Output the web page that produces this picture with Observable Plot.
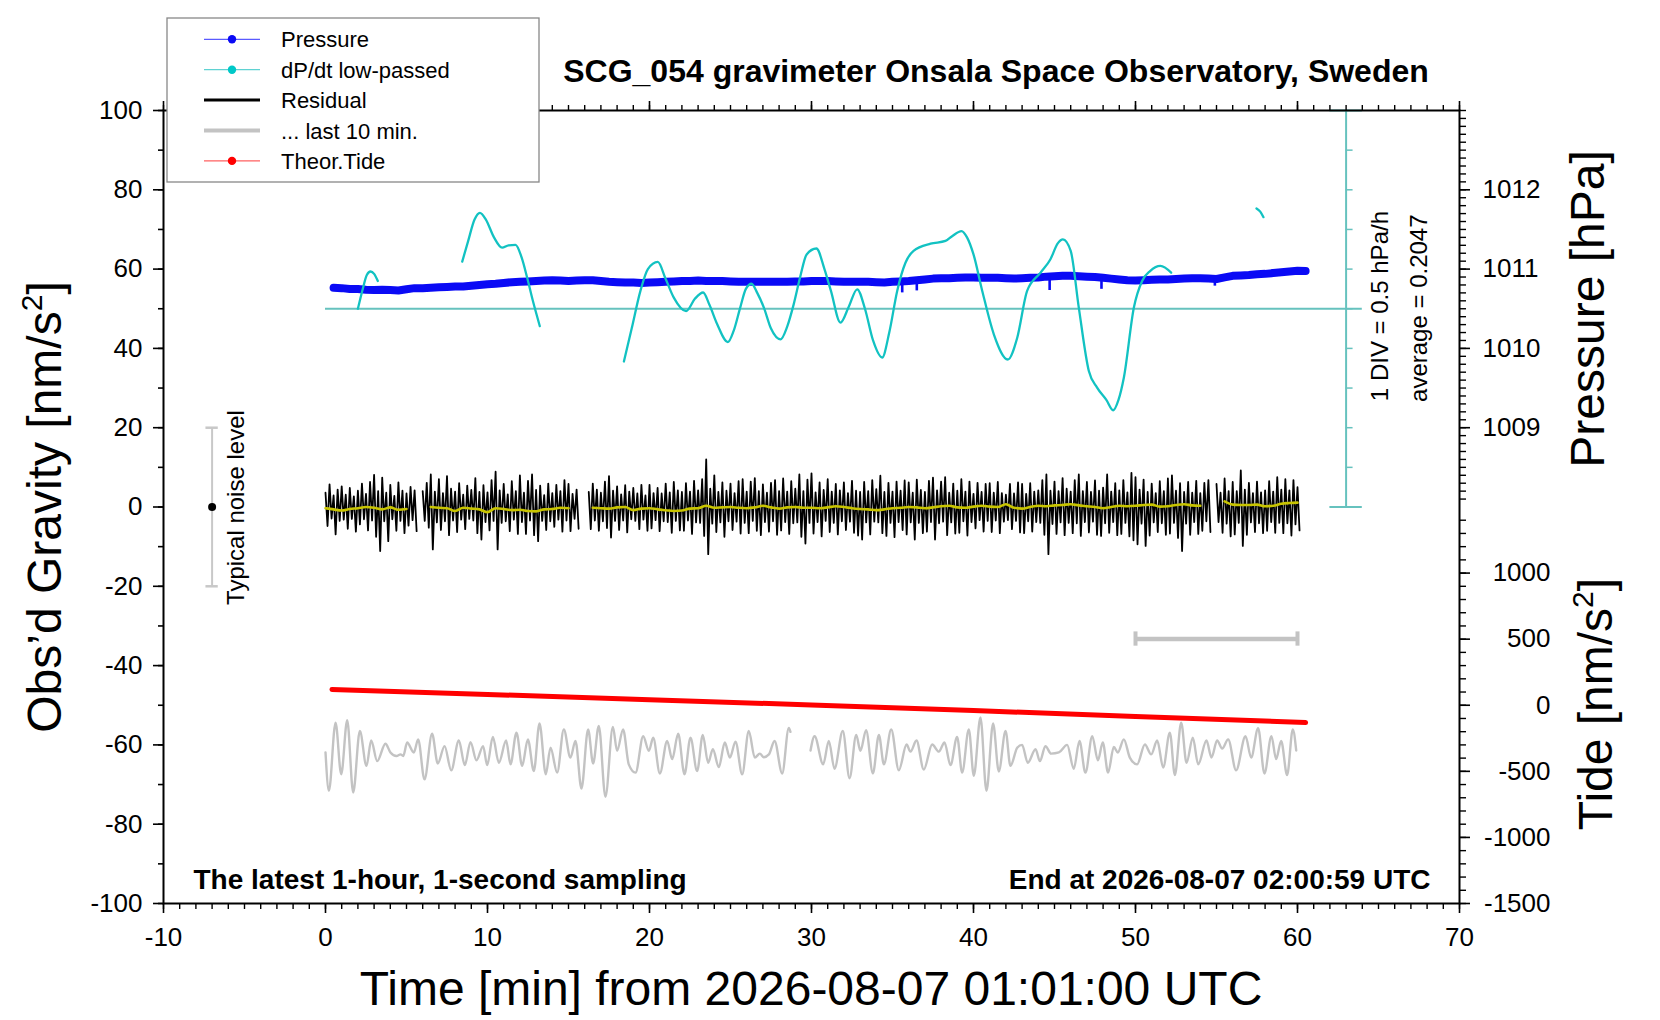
<!DOCTYPE html>
<html>
<head>
<meta charset="utf-8">
<script src="https://cdn.jsdelivr.net/npm/d3@7"></script>
<script src="https://cdn.jsdelivr.net/npm/@observablehq/plot@0.6"></script>
<style>
html,body{margin:0;padding:0;background:#fff;overflow:hidden}
</style>
</head>
<body>
<div id="chart"></div>
<script>
const FONT = "'Liberation Sans', Arial, Helvetica, sans-serif";

// ---------- tick labels ----------
const timeTicks = [-10, 0, 10, 20, 30, 40, 50, 60, 70];
const gravityTicks = [-100, -80, -60, -40, -20, 0, 20, 40, 60, 80, 100];
const pressureTicks = [1009, 1010, 1011, 1012];
const tideTicks = [-1500, -1000, -500, 0, 500, 1000];

// ---------- unit conversions onto the gravity axis ----------
const pToG = p => (p - 1008) * 20;      // 1011 hPa <-> 60 nm/s2, 1 hPa = 20
const tideToG = t => -50 + t / 30;      // 0 nm/s2 <-> -50, 500 = 16.67
const rateToG = r => 50 + 20 * r;       // 0 hPa/h <-> 50, 0.5 hPa/h = 1 DIV = 10

// ---------- Pressure [hPa], every 0.5 min from 0.5 min ----------
const pressureStart = 0.5, pressureStep = 0.5;
const pressure = [
 1010.765,1010.76,1010.75,1010.75,1010.74,1010.735,1010.74,1010.735,1010.73,1010.745,
 1010.76,1010.76,1010.765,1010.77,1010.775,1010.78,1010.78,1010.79,1010.80,1010.81,
 1010.815,1010.825,1010.835,1010.84,1010.845,1010.85,1010.855,1010.86,1010.855,1010.85,
 1010.855,1010.86,1010.86,1010.85,1010.84,1010.835,1010.83,1010.83,1010.825,1010.83,
 1010.835,1010.84,1010.845,1010.85,1010.85,1010.855,1010.85,1010.85,1010.85,1010.845,
 1010.84,1010.84,1010.84,1010.84,1010.84,1010.84,1010.84,1010.845,1010.845,1010.85,
 1010.85,1010.85,1010.845,1010.84,1010.84,1010.84,1010.84,1010.835,1010.83,1010.84,
 1010.845,1010.85,1010.86,1010.87,1010.88,1010.885,1010.885,1010.89,1010.895,1010.895,
 1010.89,1010.89,1010.89,1010.885,1010.88,1010.885,1010.89,1010.895,1010.905,1010.91,
 1010.915,1010.915,1010.91,1010.905,1010.90,1010.89,1010.88,1010.87,1010.86,1010.855,
 1010.86,1010.865,1010.87,1010.87,1010.875,1010.88,1010.885,1010.885,1010.88,1010.875,
 1010.895,1010.915,1010.92,1010.925,1010.935,1010.94,1010.95,1010.96,1010.97,1010.98,
 1010.975
];
// short downward excursions of the pressure trace: [time, lowest value]
const pressureOutliers = [[35.6,1010.70],[36.5,1010.725],[44.7,1010.73],[47.9,1010.745],[54.9,1010.785]];

// ---------- dP/dt low-passed [hPa/h] ----------
const dpdt = [
 [2.0,0],[2.3,0.25],[2.55,0.425],[2.78,0.47],[3.0,0.44],[3.23,0.35],[5.0,null],
 [8.44,0.595],[8.8,0.85],[9.2,1.125],[9.53,1.21],[9.9,1.125],[10.4,0.9],[10.9,0.77],[11.3,0.8],
 [11.73,0.805],[12.1,0.65],[12.45,0.39],[12.8,0.1],[13.23,-0.22],[15.0,null],
 [18.42,-0.665],[18.9,-0.25],[19.44,0.225],[19.9,0.5],[20.51,0.59],[21.0,0.375],[21.5,0.14],
 [22.26,-0.03],[22.8,0.125],[23.31,0.205],[23.7,0.05],[24.18,-0.195],[24.84,-0.42],[25.2,-0.275],
 [25.6,0.015],[25.95,0.25],[26.3,0.315],[26.65,0.2],[27.06,0.015],[27.5,-0.25],[28.09,-0.385],
 [28.5,-0.225],[28.9,0.055],[29.3,0.4],[29.7,0.685],[30.3,0.76],[30.8,0.5],[31.2,0.225],
 [31.79,-0.175],[32.3,0.025],[32.82,0.245],[33.3,0],[33.8,-0.4],[34.36,-0.615],[34.8,-0.3],
 [35.29,0.225],[35.8,0.58],[36.3,0.73],[37.35,0.82],[38.27,0.855],[38.68,0.915],[39.26,0.98],
 [39.6,0.9],[40.0,0.685],[40.54,0.225],[41.26,-0.325],[42.12,-0.64],[42.7,-0.365],[43.31,0.225],
 [44.14,0.455],[44.75,0.625],[45.2,0.825],[45.52,0.875],[46.0,0.73],[46.5,0.015],[47.12,-0.785],
 [47.63,-0.995],[48.2,-1.15],[48.62,-1.28],[48.95,-1.15],[49.28,-0.87],[49.9,0.015],[50.41,0.35],
 [50.9,0.475],[51.54,0.54],[52.2,0.455],[55.0,null],
 [57.47,1.265],[57.7,1.225],[57.9,1.155]
];
const dpdtScale = [-2.5, -2, -1.5, -1, -0.5, 0, 0.5, 1, 1.5, 2, 2.5]; // 1 DIV = 0.5 hPa/h
const dpdtScaleTime = 63;

// ---------- Residual [nm/s2]: envelope per 15 s ----------
const resStep = 0.25;
const resHi = [
 3.6,5.7,2.9,4.4, 5.2,3.1,4.8,2.7, 4.1,5.9,3.3,6.3, 8.1,4.0,7.4,3.6, 5.6,2.8,6.2,4.1,
 3.4,5.1,4.2,null, 4.0,6.1,8.2,3.9, 7.0,3.5,7.8,4.6, 3.9,6.0,3.1,5.4, 4.3,7.3,3.8,5.5,
 3.7,6.8,8.9,4.2, 5.8,3.2,6.5,4.0, 8.0,3.6,6.6,8.2, 4.3,5.4,3.0,5.9, 3.5,5.6,4.0,6.8,
 5.8,3.3,4.4,null, null,3.8,5.9,4.4, 3.6,6.4,7.8,4.1, 5.2,3.2,5.5,3.9, 4.8,3.4,5.6,2.9,
 5.6,3.5,4.8,3.4, 5.9,3.7,6.3,4.2, 3.8,6.0,3.9,6.6, 4.2,7.0,12.0,4.6, 8.0,3.8,6.2,4.1,
 5.9,3.5,6.5,7.0, 3.9,6.4,7.3,4.0, 5.7,3.6,6.1,6.8, 4.0,7.2,3.9,6.5, 4.6,8.2,4.0,6.9,
 8.5,3.7,6.2,4.3, 7.0,3.9,5.8,4.2, 6.2,3.5,6.6,4.1, 3.8,6.3,4.0,6.8, 4.5,7.9,3.8,6.1,
 3.9,6.4,4.1,6.7, 6.2,3.6,6.9,4.3, 3.8,6.6,7.4,4.2, 6.4,7.5,3.6,5.9, 4.1,7.0,3.9,6.4,
 3.3,6.1,3.8,5.8, 6.0,3.6,6.3,3.5, 3.1,5.8,3.4,6.2, 5.8,3.3,6.0,3.9, 4.2,6.8,8.2,4.1,
 6.4,4.0,7.3,4.6, 3.9,6.8,8.2,4.0, 6.3,3.8,6.7,4.1, 4.9,8.2,3.9,6.0, 4.2,6.8,3.7,8.6,
 7.5,4.4,6.9,3.8, 5.9,3.5,6.5,4.0, 7.2,8.0,4.1,6.0, 3.8,6.3,3.6,6.6, 3.5,6.1,6.8,null,
 5.8,3.6,7.2,4.0, 6.3,4.0,9.2,4.4, 6.1,3.5,6.4,3.7, 4.2,6.5,3.9,7.5, 4.4,7.0,4.2,6.8,
 5.0
];
const resLo = [
 -4.8,-2.9,-6.9,-3.5, -3.2,-5.5,-3.0,-6.2, -4.4,-3.1,-5.9,-3.4, -7.5,-11.1,-3.6,-8.6, -3.1,-6.0,-3.5,-6.6,
 -4.7,-3.3,-6.1,null, -3.5,-5.2,-10.7,-3.9, -5.8,-3.6,-7.1,-3.4, -6.3,-3.2,-5.6,-3.0, -3.4,-6.6,-8.2,-3.8,
 -5.9,-3.5,-10.7,-4.0, -3.6,-6.1,-3.2,-6.8, -3.8,-6.8,-3.4,-7.1, -8.6,-3.5,-5.8,-3.6, -5.0,-3.2,-6.2,-3.4,
 -6.1,-3.0,-5.5,null, null,-5.6,-3.4,-6.0, -3.6,-5.3,-7.7,-3.5, -5.8,-3.4,-6.4,-3.1, -3.5,-5.6,-3.2,-6.0,
 -5.4,-3.3,-6.1,-3.6, -3.8,-6.5,-3.5,-5.9, -6.0,-3.4,-6.8,-3.9, -4.0,-7.3,-11.9,-4.2, -6.3,-3.9,-7.5,-3.6,
 -5.8,-3.7,-6.7,-4.0, -6.6,-3.5,-6.0,-7.1, -3.8,-6.2,-3.6,-7.0, -5.9,-3.8,-6.8,-4.1, -3.9,-7.5,-9.2,-4.0,
 -6.7,-3.8,-7.4,-3.5, -6.3,-4.0,-6.9,-3.6, -5.8,-3.7,-6.5,-7.2, -8.2,-3.9,-6.9,-3.7, -3.9,-6.6,-7.3,-4.0,
 -7.6,-3.8,-5.8,-6.9, -3.9,-8.2,-4.0,-6.6, -6.2,-3.8,-8.2,-4.1, -3.7,-7.1,-3.9,-6.7, -6.5,-3.6,-7.2,-3.8,
 -5.4,-3.3,-6.2,-3.5, -6.3,-3.4,-6.6,-3.7, -3.3,-5.6,-3.5,-6.4, -6.6,-3.6,-6.2,-3.8, -4.0,-7.0,-11.9,-4.3,
 -6.8,-3.9,-7.1,-4.0, -6.6,-4.1,-7.3,-3.8, -6.4,-3.7,-7.0,-7.3, -4.1,-6.5,-3.8,-7.1, -6.8,-4.0,-7.4,-8.4,
 -9.4,-4.2,-9.8,-7.2, -3.9,-6.3,-4.1,-7.0, -6.7,-4.0,-7.8,-11.1, -4.2,-7.0,-3.8,-6.8, -6.0,-3.6,-6.3,null,
 -3.8,-6.5,-4.2,-7.4, -6.9,-4.0,-9.8,-7.0, -3.9,-6.3,-4.1,-6.6, -6.0,-3.8,-6.5,-4.0, -6.6,-4.1,-7.2,-4.4,
 -5.9
];

// ---------- smoothed residual, every 0.5 min ----------
const smoothStep = 0.5;
const residualSmooth = [
 -0.3,-0.6,-0.9,-0.5,-0.3,0.0,-0.2,-0.6,-0.1,-0.7,-0.5,null,null,
 0.0,-0.2,-0.3,-1.0,-0.2,-0.4,-0.6,-1.3,-0.3,-0.5,-0.8,-0.7,-1.0,-1.1,-0.6,-0.5,-0.2,-0.3,null,null,
 -0.2,-0.3,-0.4,-0.1,0.0,-0.8,-0.4,-0.3,-0.6,-0.8,-1.0,-0.9,-0.4,-0.3,0.3,-0.2,-0.1,0.0,-0.2,-0.3,
 -0.1,0.3,-0.1,-0.4,-0.1,0.0,-0.2,
 -0.2,-0.3,-0.1,0.2,0.0,-0.3,-0.5,-0.6,-0.8,-0.6,-0.3,-0.2,0.0,-0.1,-0.3,-0.1,0.2,0.3,-0.1,-0.2,
 0.1,0.3,0.1,0.0,0.7,-0.2,-0.4,0.0,0.3,0.2,0.4,0.5,0.7,0.4,0.2,0.0,-0.3,0.0,0.3,0.2,
 0.3,0.5,0.6,0.1,0.2,0.5,0.7,0.4,0.3,null,null,
 1.4,0.6,0.5,0.5,0.6,0.2,0.3,0.8,1.0,1.1
];

// ---------- "... last 10 min." residual, stretched over the hour ----------
const lastTenMin = [
 [0,-61.9],[0.21,-71.6],[0.62,-54.4],[0.97,-67.4],[1.34,-53.8],[1.71,-72.0],[2.12,-56.5],[2.53,-65.3],
 [2.82,-58.9],[3.19,-64.1],[3.70,-59.7],[4.01,-61.9],[4.38,-62.8],[4.63,-62.4],[4.80,-62.8],[5.04,-59.4],
 [5.45,-61.9],[5.72,-58.6],[6.11,-68.7],[6.58,-57.2],[6.93,-64.7],[7.35,-60.3],[7.76,-66.4],[8.23,-58.9],
 [8.60,-65.1],[8.95,-59.3],[9.32,-63.9],[9.73,-60.3],[9.98,-65.1],[10.33,-58.0],[10.70,-64.5],[11.15,-58.9],
 [11.42,-64.9],[11.79,-56.9],[12.14,-65.3],[12.49,-58.6],[12.86,-66.6],[13.21,-54.6],[13.60,-67.4],[13.89,-60.7],
 [14.30,-67.0],[14.71,-56.1],[15.12,-63.2],[15.43,-59.0],[15.80,-71.0],[16.21,-56.1],[16.52,-64.7],[16.87,-55.2],
 [17.28,-73.1],[17.74,-55.5],[18.00,-61.5],[18.37,-56.1],[18.72,-64.9],[19.14,-67.0],[19.61,-57.8],[19.96,-61.5],
 [20.23,-58.2],[20.64,-67.2],[21.09,-59.0],[21.40,-63.6],[21.77,-57.2],[22.16,-67.4],[22.53,-58.2],[22.94,-66.6],
 [23.29,-57.5],[23.62,-64.5],[23.91,-61.1],[24.28,-65.6],[24.65,-59.4],[24.96,-63.2],[25.31,-59.2],[25.72,-67.4],
 [26.13,-56.5],[26.50,-63.2],[26.81,-62.2],[27.06,-63.1],[27.37,-62.4],[27.72,-59.0],[28.19,-67.2],[28.60,-55.7],
 [28.70,-56.7],[29.3,null],
 [29.94,-61.4],[30.19,-57.8],[30.72,-64.9],[31.07,-59.0],[31.42,-66.0],[31.93,-56.5],[32.35,-68.4],[32.76,-57.5],
 [33.02,-61.5],[33.37,-56.3],[33.79,-67.2],[34.16,-57.5],[34.47,-64.9],[34.92,-56.1],[35.39,-66.4],[35.87,-59.9],
 [36.11,-61.7],[36.48,-58.9],[36.93,-66.2],[37.45,-59.9],[37.86,-61.7],[38.21,-59.4],[38.58,-65.1],[38.99,-58.0],
 [39.30,-67.0],[39.71,-56.1],[40.02,-67.8],[40.43,-53.1],[40.80,-71.6],[41.21,-54.6],[41.56,-66.7],[41.98,-56.5],
 [42.28,-65.3],[42.70,-60.7],[43.00,-60.0],[43.35,-64.5],[43.83,-61.1],[44.10,-64.1],[44.44,-60.3],[44.79,-62.2],
 [45.27,-61.9],[45.78,-60.0],[46.19,-66.0],[46.54,-59.0],[46.91,-67.0],[47.33,-57.8],[47.68,-63.9],[47.98,-59.4],
 [48.31,-67.0],[48.66,-60.5],[48.91,-61.9],[49.28,-58.6],[49.65,-63.2],[50.10,-64.9],[50.58,-59.9],[50.97,-62.4],
 [51.34,-58.9],[51.71,-65.7],[52.12,-56.9],[52.43,-67.6],[52.82,-54.4],[53.15,-64.5],[53.54,-58.2],[53.87,-64.9],
 [54.38,-58.9],[54.69,-63.2],[55.04,-58.9],[55.35,-60.9],[55.72,-58.6],[56.21,-66.4],[56.79,-57.8],[57.14,-63.2],
 [57.57,-55.8],[57.96,-67.2],[58.39,-57.8],[58.68,-63.6],[58.99,-59.0],[59.36,-67.6],[59.71,-56.1],[59.92,-61.4]
];
const lastWindow = [50, 60];
const lastWindowLevel = -33.3;

// ---------- Theoretical tide [nm/s2] ----------
const tide = [[0.4,120],[10,82],[20,42],[30,2],[40,-40],[50,-85],[60.5,-131]];

// ---------- typical noise level ----------
const noiseTime = -7;
const noiseLevel = 20;

// ---------- build series ----------
const pressureData = pressure.map((p, i) => ({t: pressureStart + i * pressureStep, g: pToG(p)}));
const pressureAt = t => pressure[Math.max(0, Math.min(pressure.length - 1, Math.round((t - pressureStart) / pressureStep)))];
const residData = [];
resHi.forEach((h, i) => {
  const t = i * resStep;
  residData.push({t, g: h});
  residData.push({t: t + resStep / 2, g: resLo[i]});
});
const smoothData = residualSmooth.map((v, i) => ({t: i * smoothStep, g: v}));
const dpdtData = dpdt.map(([t, r]) => ({t, g: r == null ? null : rateToG(r)}));
const tideData = tide.map(([t, v]) => ({t, g: tideToG(v)}));
const lastData = lastTenMin.map(([t, v]) => ({t, g: v}));

const TEAL = "#66c2be", CYAN = "#12c2c2", BLUE = "#0a0af5", YEL = "#c8c400", GRAY = "#c3c3c3";

const pMinor = d3.range(1008.1, 1013.05, 0.1).map(pToG);
const tMinor = d3.range(-1500, 1401, 100).map(tideToG);
const plain = d => String(d);

const chart = Plot.plot({
  width: 1660, height: 1020,
  marginLeft: 163, marginRight: 201, marginTop: 110, marginBottom: 117,
  style: {fontFamily: FONT, fontSize: "26px", background: "#fff", color: "black", overflow: "visible"},
  x: {domain: [-10, 70], axis: null},
  y: {domain: [-100, 100], axis: null},
  marks: [
    // dP/dt zero line and scale bar
    Plot.ruleY([rateToG(0)], {x1: 0, x2: dpdtScaleTime + 1, stroke: TEAL, strokeWidth: 2}),
    Plot.ruleX([dpdtScaleTime], {y1: rateToG(dpdtScale[0]), y2: rateToG(dpdtScale[dpdtScale.length - 1]), stroke: TEAL, strokeWidth: 2}),
    Plot.ruleY(dpdtScale.slice(1, -1).map(rateToG), {x1: dpdtScaleTime, x2: dpdtScaleTime + 0.43, stroke: TEAL, strokeWidth: 1.5}),
    Plot.ruleY([dpdtScale[0], dpdtScale[dpdtScale.length - 1]].map(rateToG), {x1: dpdtScaleTime - 1, x2: dpdtScaleTime + 1, stroke: TEAL, strokeWidth: 2}),

    // pressure
    Plot.line(pressureData, {x: "t", y: "g", stroke: BLUE, strokeWidth: 8, strokeLinejoin: "round"}),
    Plot.ruleX(pressureOutliers, {x: d => d[0], y1: d => pToG(d[1]), y2: d => pToG(pressureAt(d[0])), stroke: BLUE, strokeWidth: 2.6}),

    // dP/dt curve
    Plot.line(dpdtData, {x: "t", y: "g", stroke: CYAN, strokeWidth: 2.3, curve: "monotone-x"}),

    // residual and its smoothed version
    Plot.line(residData, {x: "t", y: "g", stroke: "black", strokeWidth: 1.8}),
    Plot.line(smoothData, {x: "t", y: "g", stroke: YEL, strokeWidth: 2.6, curve: "monotone-x"}),

    // tide
    Plot.line(tideData, {x: "t", y: "g", stroke: "#ff0000", strokeWidth: 5, strokeLinecap: "round"}),

    // last 10 min residual
    Plot.line(lastData, {x: "t", y: "g", stroke: GRAY, strokeWidth: 2.4, curve: "monotone-x"}),
    Plot.ruleY([lastWindowLevel], {x1: lastWindow[0], x2: lastWindow[1], stroke: GRAY, strokeWidth: 4.5}),
    Plot.ruleX(lastWindow, {y1: lastWindowLevel - 1.8, y2: lastWindowLevel + 1.8, stroke: GRAY, strokeWidth: 4}),

    // typical noise level
    Plot.ruleX([noiseTime], {y1: -noiseLevel, y2: noiseLevel, stroke: "#c8c8c8", strokeWidth: 2}),
    Plot.ruleY([-noiseLevel, noiseLevel], {x1: noiseTime - 0.38, x2: noiseTime + 0.38, stroke: "#c8c8c8", strokeWidth: 2.5}),
    Plot.dot([[noiseTime, 0]], {x: d => d[0], y: d => d[1], r: 4, fill: "black"}),
    Plot.text(["Typical noise level"], {x: noiseTime + 1.94, y: -24.7, rotate: -90, textAnchor: "start", lineAnchor: "bottom", fontSize: 24, fill: "black"}),

    // dP/dt notes
    Plot.text(["1 DIV = 0.5 hPa/h"], {x: 65.58, y: 26.7, rotate: -90, textAnchor: "start", lineAnchor: "bottom", fontSize: 24, fill: "black"}),
    Plot.text(["average = 0.2047"], {x: 68.02, y: 26.5, rotate: -90, textAnchor: "start", lineAnchor: "bottom", fontSize: 24, fill: "black"}),

    // in-frame captions
    Plot.text(["The latest 1-hour, 1-second sampling"], {frameAnchor: "bottom-left", dx: 30, dy: -15, textAnchor: "start", lineAnchor: "bottom", fontSize: 28, fontWeight: "bold", fill: "black"}),
    Plot.text(["End at 2026-08-07 02:00:59 UTC"], {frameAnchor: "bottom-right", dx: -29, dy: -15, textAnchor: "end", lineAnchor: "bottom", fontSize: 28, fontWeight: "bold", fill: "black"}),

    Plot.frame({stroke: "black", strokeWidth: 2}),

    // left axis
    Plot.axisY({anchor: "left", ticks: gravityTicks, tickSize: 10, tickPadding: 11, fontSize: 26, strokeWidth: 1.6, tickFormat: plain, label: null}),
    Plot.axisY({anchor: "left", ticks: d3.range(-100, 101, 10), tickSize: 5, strokeWidth: 1.6, fill: "none", label: null}),
    // bottom axis
    Plot.axisX({anchor: "bottom", ticks: timeTicks, tickSize: 10, tickPadding: 14, fontSize: 26, strokeWidth: 1.6, tickFormat: plain, label: null}),
    Plot.axisX({anchor: "bottom", ticks: d3.range(-10, 71, 1), tickSize: 6, strokeWidth: 1.4, fill: "none", label: null}),
    // top axis
    Plot.axisX({anchor: "top", ticks: timeTicks, tickSize: 10, strokeWidth: 1.6, fill: "none", label: null}),
    Plot.axisX({anchor: "top", ticks: d3.range(-10, 71, 1), tickSize: 6, strokeWidth: 1.4, fill: "none", label: null}),
    // right axis: pressure
    Plot.axisY({anchor: "right", ticks: pressureTicks.map(pToG), tickSize: 10, tickPadding: 13, fontSize: 26, strokeWidth: 1.6,
      tickFormat: d => String(Math.round(d / 20 + 1008)), label: null}),
    Plot.axisY({anchor: "right", ticks: pMinor, tickSize: 6, strokeWidth: 1.4, fill: "none", label: null}),
    // right axis: tide
    Plot.axisY({anchor: "right", ticks: tideTicks.map(tideToG), tickSize: 10, tickPadding: 81, fontSize: 26, strokeWidth: 1.6,
      textAnchor: "end", tickFormat: d => String(Math.round((d + 50) * 30)), label: null}),
    Plot.axisY({anchor: "right", ticks: tMinor, tickSize: 6, strokeWidth: 1.4, fill: "none", label: null})
  ]
});

document.getElementById("chart").appendChild(chart);

// ---------- titles, axis names and legend ----------
const svg = d3.select(chart);
const g = svg.append("g").attr("font-family", FONT).attr("fill", "black");

g.append("text").attr("x", 996).attr("y", 82).attr("text-anchor", "middle")
  .attr("font-size", 32).attr("font-weight", "bold")
  .text("SCG_054 gravimeter Onsala Space Observatory, Sweden");

g.append("text").attr("x", 811).attr("y", 1005).attr("text-anchor", "middle")
  .attr("font-size", 48).text("Time [min] from 2026-08-07 01:01:00 UTC");

function unitTitle(x, y, before) {
  const t = g.append("text").attr("transform", `translate(${x},${y}) rotate(-90)`)
    .attr("text-anchor", "middle").attr("font-size", 48);
  t.append("tspan").text(before);
  t.append("tspan").attr("font-size", 30).attr("dy", -19).text("2");
  t.append("tspan").attr("dy", 19).text("]");
}
unitTitle(61, 507, "Obs\u2019d Gravity [nm/s");
unitTitle(1612, 704, "Tide [nm/s");
g.append("text").attr("transform", "translate(1604,309) rotate(-90)")
  .attr("text-anchor", "middle").attr("font-size", 48).text("Pressure [hPa]");

// legend
const legendItems = [
  {label: "Pressure", line: "#5a5aff", lw: 1.2, dot: BLUE},
  {label: "dP/dt low-passed", line: "#5fd2d2", lw: 1.2, dot: "#00c8c8"},
  {label: "Residual", line: "black", lw: 3, dot: null},
  {label: "... last 10 min.", line: GRAY, lw: 4, dot: null},
  {label: "Theor.Tide", line: "#ff6060", lw: 1.2, dot: "#ff0000"}
];
const lg = g.append("g");
lg.append("rect").attr("x", 167).attr("y", 18).attr("width", 372).attr("height", 164)
  .attr("fill", "white").attr("stroke", "#888").attr("stroke-width", 1.3);
legendItems.forEach((d, i) => {
  const cy = 39.3 + i * 30.4;
  lg.append("line").attr("x1", 204).attr("x2", 260).attr("y1", cy).attr("y2", cy)
    .attr("stroke", d.line).attr("stroke-width", d.lw);
  if (d.dot) lg.append("circle").attr("cx", 232).attr("cy", cy).attr("r", 4.2).attr("fill", d.dot);
  lg.append("text").attr("x", 281).attr("y", cy + 8).attr("text-anchor", "start").attr("font-size", 22).text(d.label);
});
</script>
</body>
</html>
